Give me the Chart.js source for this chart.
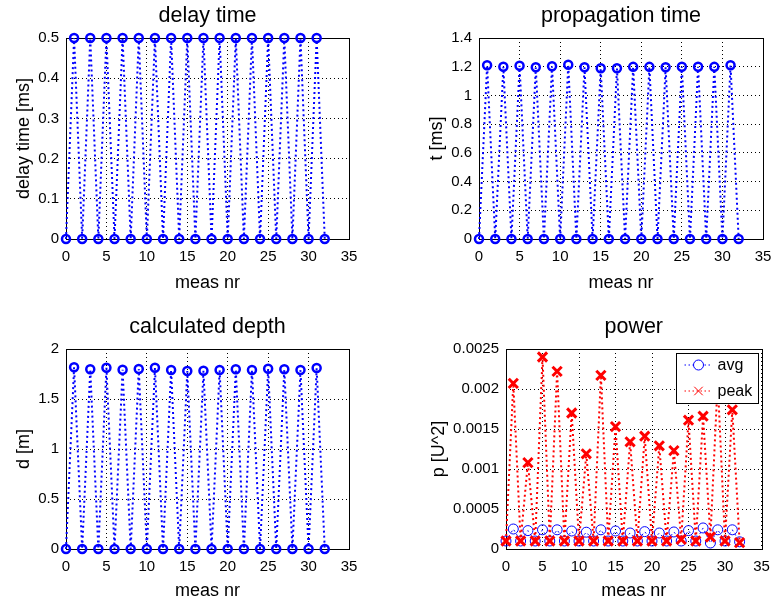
<!DOCTYPE html>
<html>
<head>
<meta charset="utf-8">
<script src="https://cdn.jsdelivr.net/npm/chart.js@4"></script>
<style>
  body { margin: 0; background: #fff; width: 771px; height: 601px; overflow: hidden; position: relative; }
  canvas { position: absolute; }
</style>
</head>
<body>
<canvas id="delayChart" width="385" height="300" style="left:0;top:0"></canvas>
<canvas id="propChart" width="386" height="300" style="left:385px;top:0"></canvas>
<canvas id="depthChart" width="385" height="301" style="left:0;top:300px"></canvas>
<canvas id="powerChart" width="386" height="301" style="left:385px;top:300px"></canvas>
<script>
// data
const measNr = [0, 1, 2, 3, 4, 5, 6, 7, 8, 9, 10, 11, 12, 13, 14, 15, 16,
  17, 18, 19, 20, 21, 22, 23, 24, 25, 26, 27, 28, 29, 30, 31, 32];
const delayTime = [0, 0.5, 0, 0.5, 0, 0.5, 0, 0.5, 0, 0.5, 0, 0.5, 0, 0.5, 0, 0.5, 0,
  0.5, 0, 0.5, 0, 0.5, 0, 0.5, 0, 0.5, 0, 0.5, 0, 0.5, 0, 0.5, 0];
const propTime = [0, 1.21, 0, 1.2, 0, 1.207, 0, 1.196, 0, 1.203, 0, 1.214, 0, 1.196, 0, 1.189, 0,
  1.189, 0, 1.199, 0, 1.199, 0, 1.196, 0, 1.2, 0, 1.2, 0, 1.199, 0, 1.21, 0];
const depth = [0, 1.817, 0, 1.797, 0, 1.813, 0, 1.793, 0, 1.8, 0, 1.813, 0, 1.79, 0, 1.78, 0,
  1.783, 0, 1.79, 0, 1.797, 0, 1.79, 0, 1.803, 0, 1.797, 0, 1.79, 0, 1.81, 0];
const powerAvg = [0.0001, 0.00025, 0.0001, 0.00023, 0.0001, 0.00024, 0.0001, 0.00024, 0.0001,
  0.000225, 0.0001, 0.00021, 0.0001, 0.00024, 0.0001, 0.000225, 0.0001, 0.0002, 0.0001,
  0.000217, 0.0001, 0.0002, 0.0001, 0.000213, 0.0001, 0.00023, 0.0001, 0.000263, 0.000075,
  0.00024, 0.0001, 0.00024, 0.00009];
const powerPeak = [0.0001, 0.00207, 0.0001, 0.00108, 0.0001, 0.0024, 0.0001, 0.00222, 0.0001,
  0.0017, 0.0001, 0.00119, 0.0001, 0.00217, 0.0001, 0.00153, 0.0001, 0.00134, 0.0001,
  0.00141, 0.0001, 0.00129, 0.0001, 0.00123, 0.00012, 0.00161, 0.0001, 0.00166, 0.00015,
  0.0021, 0.0001, 0.00174, 0.00008];

const xTicks = [0, 5, 10, 15, 20, 25, 30, 35];
const delayTicks = [0, 0.1, 0.2, 0.3, 0.4, 0.5];
const propTicks = [0, 0.2, 0.4, 0.6, 0.8, 1, 1.2, 1.4];
const depthTicks = [0, 0.5, 1, 1.5, 2];
const powerTicks = [0, 0.0005, 0.001, 0.0015, 0.002, 0.0025];

const FONT = "'Liberation Sans', Arial, sans-serif";
Chart.defaults.color = '#000';
Chart.defaults.font.family = FONT;

const BIRU = '#0000ff';
const MERAH = '#ff0000';

function titik(ys) {
  return measNr.map((x, i) => ({ x: x, y: ys[i] }));
}

// kotak hitam di sekeliling area plot
const kotakPlugin = {
  id: 'kotak',
  beforeDatasetsDraw(chart) {
    const a = chart.chartArea;
    const ctx = chart.ctx;
    ctx.save();
    ctx.strokeStyle = '#000';
    ctx.lineWidth = 1;
    ctx.strokeRect(Math.round(a.left) + 0.5, Math.round(a.top) + 0.5,
      Math.round(a.right - a.left), Math.round(a.bottom - a.top));
    ctx.restore();
  }
};

// legenda bergaya matlab (kotak putih dengan garis tepi)
const legendaPlugin = {
  id: 'legenda',
  afterDatasetsDraw(chart, args, opts) {
    if (!opts.show) return;
    const ctx = chart.ctx;
    const a = chart.chartArea;
    const x0 = a.right - 86, y0 = a.top + 4, w = 82, h = 50;
    ctx.save();
    ctx.fillStyle = '#fff';
    ctx.fillRect(x0, y0, w, h);
    ctx.strokeStyle = '#000';
    ctx.lineWidth = 1;
    ctx.strokeRect(Math.round(x0) + 0.5, Math.round(y0) + 0.5, w, h);
    const urut = [1, 0]; // avg dulu, lalu peak
    urut.forEach((di, row) => {
      const ds = chart.data.datasets[di];
      const cy = y0 + 12 + row * 26;
      ctx.strokeStyle = ds.borderColor;
      ctx.lineWidth = 1;
      ctx.setLineDash([1.5, 2.5]);
      ctx.beginPath();
      ctx.moveTo(x0 + 9, cy);
      ctx.lineTo(x0 + 37, cy);
      ctx.stroke();
      ctx.setLineDash([]);
      Chart.helpers.drawPoint(ctx, {
        pointStyle: ds.pointStyle, radius: ds.pointStyle === 'circle' ? 5 : 6,
        rotation: 0, borderWidth: 1
      }, x0 + 23, cy);
      ctx.fillStyle = '#000';
      ctx.font = '16px ' + FONT;
      ctx.textBaseline = 'middle';
      ctx.fillText(ds.label, x0 + 42, cy + 1);
    });
    ctx.restore();
  }
};

function formatAngka(v) {
  return String(+Number(v).toFixed(4));
}

function buatPlot(id, judul, labelY, yMax, ticksY, datasets, tata) {
  return new Chart(document.getElementById(id), {
    type: 'line',
    data: { datasets: datasets },
    options: {
      responsive: false,
      animation: false,
      layout: { padding: { top: 0, right: tata.kanan, bottom: 0, left: 0 } },
      plugins: {
        legend: { display: false },
        tooltip: { enabled: false },
        title: {
          display: true, text: judul, fullSize: false, color: '#000',
          font: { size: 21.5, weight: 'normal', family: FONT, lineHeight: 1.2 },
          padding: { top: tata.judulAtas, bottom: tata.judulBawah }
        },
        legenda: { show: !!tata.legenda }
      },
      scales: {
        x: {
          type: 'linear', min: 0, max: 35,
          afterBuildTicks: s => { s.ticks = xTicks.map(v => ({ value: v })); },
          afterFit: s => { s.height = tata.tinggiX; s.paddingLeft = 0; s.paddingRight = 0; },
          ticks: { font: { size: 15 }, padding: 9, maxRotation: 0 },
          grid: { color: '#000', lineWidth: 1, drawTicks: false },
          border: { display: false, dash: [1, 3] },
          title: {
            display: true, text: 'meas nr', font: { size: 18, lineHeight: 1 },
            padding: { top: 0, bottom: tata.labelXBawah }
          }
        },
        y: {
          type: 'linear', min: 0, max: yMax,
          afterBuildTicks: s => { s.ticks = ticksY.map(v => ({ value: v })); },
          afterFit: s => { s.width = tata.lebarY; },
          ticks: { font: { size: 15 }, padding: 7, callback: formatAngka },
          grid: { color: '#000', lineWidth: 1, drawTicks: false },
          border: { display: false, dash: [1, 3] },
          title: {
            display: true, text: labelY, font: { size: 18, lineHeight: 1 },
            padding: { top: tata.labelYKiri, bottom: 0 }
          }
        }
      }
    },
    plugins: [kotakPlugin, legendaPlugin]
  });
}

function garisBiru(ys) {
  return {
    data: titik(ys), borderColor: BIRU, borderWidth: 2, borderDash: [2, 3],
    pointStyle: 'circle', pointRadius: 4, pointBorderWidth: 2.5,
    pointBorderColor: BIRU, pointBackgroundColor: 'rgba(0,0,0,0)',
    tension: 0, clip: false
  };
}

const atas = { judulAtas: 3, judulBawah: 9.2, tinggiX: 61, labelXBawah: 8 };
const bawah = { judulAtas: 14.6, judulBawah: 8.6, tinggiX: 52, labelXBawah: 1 };

buatPlot('delayChart', 'delay time', 'delay time [ms]', 0.5, delayTicks,
  [garisBiru(delayTime)], Object.assign({ lebarY: 66, kanan: 36, labelYKiri: 15 }, atas));
buatPlot('propChart', 'propagation time', 't [ms]', 1.4, propTicks,
  [garisBiru(propTime)], Object.assign({ lebarY: 94, kanan: 8, labelYKiri: 43 }, atas));
buatPlot('depthChart', 'calculated depth', 'd [m]', 2, depthTicks,
  [garisBiru(depth)], Object.assign({ lebarY: 66, kanan: 36, labelYKiri: 15 }, bawah));
buatPlot('powerChart', 'power', 'p [U^2]', 0.0025, powerTicks, [
  {
    label: 'peak', data: titik(powerPeak), borderColor: MERAH, borderWidth: 2,
    borderDash: [2, 3], pointStyle: 'crossRot', pointRadius: 6.5, pointBorderWidth: 3,
    pointBorderColor: MERAH, tension: 0, clip: false, order: 0
  },
  {
    label: 'avg', data: titik(powerAvg), borderColor: BIRU, borderWidth: 1,
    borderDash: [2, 3], pointStyle: 'circle', pointRadius: 5, pointBorderWidth: 1,
    pointBorderColor: BIRU, pointBackgroundColor: 'rgba(0,0,0,0)',
    tension: 0, clip: false, order: 1
  }
], Object.assign({ lebarY: 121, kanan: 8, labelYKiri: 45, legenda: true }, bawah));
</script>
</body>
</html>
